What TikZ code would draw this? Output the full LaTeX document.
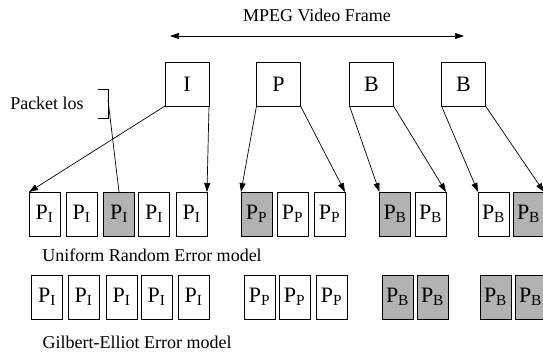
\documentclass[tikz,border=0pt]{standalone}
\usepackage{fontspec}
\setmainfont{Liberation Serif}
\usetikzlibrary{arrows.meta}
\definecolor{lossgray}{rgb}{0.7,0.7,0.7}

\begin{document}
\begin{tikzpicture}[x=1pt,y=-1pt,line width=0.7pt]
        \tikzstyle{every node}=[font=\fontsize{18}{20}\selectfont]
        \tikzstyle{frame}=[draw,inner sep=0pt,outer sep=0pt,minimum width=44pt,minimum height=44pt,font=\fontsize{22}{24}\selectfont]
        \tikzstyle{pkt}=[draw,inner sep=0pt,outer sep=0pt,minimum width=31pt,minimum height=44pt,font=\fontsize{22}{24}\selectfont]
        \tikzstyle{lost}=[pkt,fill=lossgray]
        \tikzstyle{link}=[-{Triangle[length=9pt,width=6pt]}]
        \useasboundingbox (0,0) rectangle (543,353);

        % title arrow
        \node (title) at (317,15) {MPEG Video Frame};
        \coordinate (vl) at (170,36);
        \coordinate (vr) at (464,36);
        \draw[{Triangle[length=9pt,width=6pt]}-{Triangle[length=9pt,width=6pt]}] (vl) -- (vr);

        % frames
        \node[frame] (fI) at (187,84) {I};
        \node[frame] (fP) at (278.5,84) {P};
        \node[frame] (fB) at (371.5,84) {B};
        \node[frame] (fBB) at (463.5,84) {B};

        % uniform random error model
        \node[pkt]  (uI1) at (44.5,214) {P\textsubscript{I}};
        \node[pkt]  (uI2) at (81.5,214) {P\textsubscript{I}};
        \node[lost] (uI3) at (119,214) {P\textsubscript{I}};
        \node[pkt]  (uI4) at (154,214) {P\textsubscript{I}};
        \node[pkt]  (uI5) at (191.5,214) {P\textsubscript{I}};
        \node[lost] (uP1) at (256.5,214) {P\textsubscript{P}};
        \node[pkt]  (uP2) at (292.5,214) {P\textsubscript{P}};
        \node[pkt]  (uP3) at (329.5,214) {P\textsubscript{P}};
        \node[lost] (uB1) at (395,214) {P\textsubscript{B}};
        \node[pkt]  (uB2) at (430.5,214) {P\textsubscript{B}};
        \node[pkt]  (uB3) at (493.5,214) {P\textsubscript{B}};
        \node[lost] (uB4) at (528.5,214) {P\textsubscript{B}};
        \node (uniform) at (152,255) {Uniform Random Error model};

        % gilbert-elliot error model
        \node[pkt]  (gI1) at (47,297) {P\textsubscript{I}};
        \node[pkt]  (gI2) at (83.5,297) {P\textsubscript{I}};
        \node[pkt]  (gI3) at (121.5,297) {P\textsubscript{I}};
        \node[pkt]  (gI4) at (156.5,297) {P\textsubscript{I}};
        \node[pkt]  (gI5) at (193.5,297) {P\textsubscript{I}};
        \node[pkt]  (gP1) at (259.5,297) {P\textsubscript{P}};
        \node[pkt]  (gP2) at (294.5,297) {P\textsubscript{P}};
        \node[pkt]  (gP3) at (331.5,297) {P\textsubscript{P}};
        \node[lost] (gB1) at (397.5,297) {P\textsubscript{B}};
        \node[lost] (gB2) at (432.5,297) {P\textsubscript{B}};
        \node[lost] (gB3) at (495.5,297) {P\textsubscript{B}};
        \node[lost] (gB4) at (530.5,297) {P\textsubscript{B}};
        \node (gilbert) at (137,342) {Gilbert-Elliot Error model};

        % frame to packets
        \draw[link] (fI.south west) -- (uI1.north west);
        \draw[link] (fI.south east) -- (uI5.north east);
        \draw[link] (fP.south west) -- (uP1.north west);
        \draw[link] (fP.south east) -- (uP3.north east);
        \draw[link] (fB.south west) -- (uB1.north west);
        \draw[link] (fB.south east) -- (uB2.north east);
        \draw[link] (fBB.south west) -- (uB3.north west);
        \draw[link] (fBB.south east) -- (uB4.north east);

        % packet loss
        \node (loss) at (47,103) {Packet los};
        \draw (98,89) -- (108,89) -- (108,118) -- (98,118);
        \coordinate (bk) at (108,100);
        \draw (bk) -- (uI3.north);
\end{tikzpicture}
\end{document}
